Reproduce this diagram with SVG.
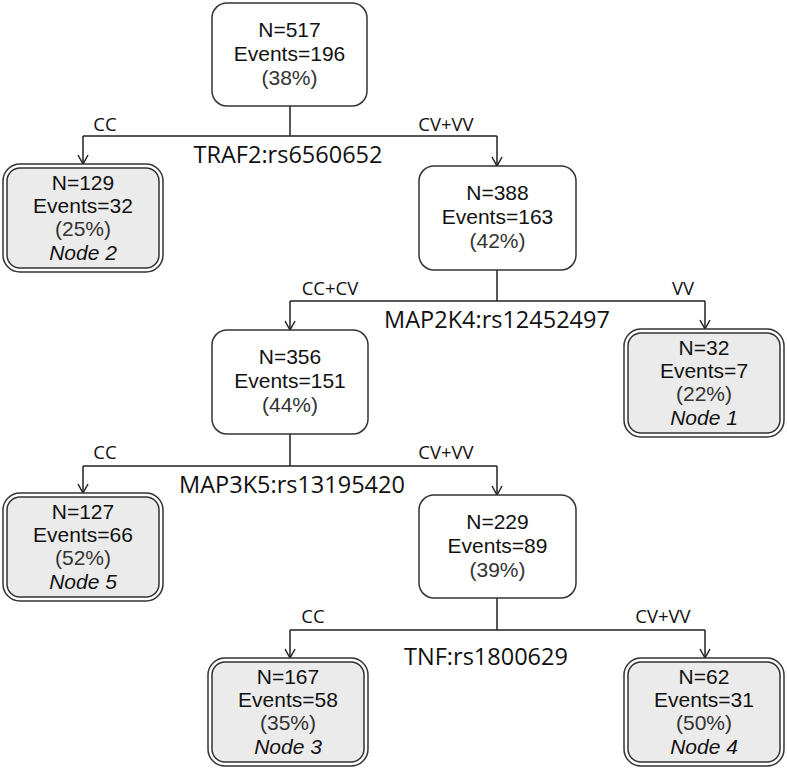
<svg xmlns="http://www.w3.org/2000/svg" width="787" height="768" viewBox="0 0 787 768">
<defs>
<style>
.box{fill:#fff;stroke:#333;stroke-width:1.5}
.outer{fill:#fff;stroke:#333;stroke-width:1.5}
.inner{fill:#ebebeb;stroke:#333;stroke-width:1.5}
.nt{font-family:"Liberation Sans",Arial,sans-serif;font-size:21px;fill:#111;text-anchor:middle}
.pc{fill:#333}
.it{font-style:italic}
.lbl{font-family:"Open Sans","DejaVu Sans",sans-serif;font-size:18.5px;fill:#111;text-anchor:middle}
.split{font-family:"Open Sans","DejaVu Sans",sans-serif;font-size:23.5px;fill:#111;text-anchor:middle}
.edge{fill:none;stroke:#222;stroke-width:1.5}
</style>
<marker id="arr" markerUnits="userSpaceOnUse" markerWidth="20" markerHeight="20" refX="0" refY="0" orient="auto" overflow="visible">
<path d="M-9,-5 L0,0 L-9,5" fill="none" stroke="#222" stroke-width="1.5"/>
</marker>
</defs>
<rect width="787" height="768" fill="#fff"/>

<g id="connectors">
<path class="edge" d="M290,106 V136 M83,136 H497"/>
<path class="edge" d="M83,136 V164" marker-end="url(#arr)"/>
<path class="edge" d="M497,136 V166" marker-end="url(#arr)"/>
<path class="edge" d="M497,270 V301 M290,301 H705"/>
<path class="edge" d="M290,301 V330" marker-end="url(#arr)"/>
<path class="edge" d="M705,301 V329" marker-end="url(#arr)"/>
<path class="edge" d="M290,434 V466 M83,466 H497"/>
<path class="edge" d="M83,466 V493" marker-end="url(#arr)"/>
<path class="edge" d="M497,466 V495" marker-end="url(#arr)"/>
<path class="edge" d="M497,598 V630 M290,630 H705"/>
<path class="edge" d="M290,630 V658" marker-end="url(#arr)"/>
<path class="edge" d="M705,630 V658" marker-end="url(#arr)"/>
<text class="lbl" x="105" y="131">CC</text>
<text class="lbl" x="446" y="131">CV+VV</text>
<text class="split" x="288" y="163">TRAF2:rs6560652</text>
<text class="lbl" x="330" y="295">CC+CV</text>
<text class="lbl" x="683" y="295">VV</text>
<text class="split" x="497" y="328">MAP2K4:rs12452497</text>
<text class="lbl" x="105" y="459">CC</text>
<text class="lbl" x="446" y="459">CV+VV</text>
<text class="split" x="292" y="493">MAP3K5:rs13195420</text>
<text class="lbl" x="313" y="623">CC</text>
<text class="lbl" x="663" y="623">CV+VV</text>
<text class="split" x="486" y="665">TNF:rs1800629</text>
</g>

<g id="n0">
<rect class="box" x="212" y="3" width="155" height="103" rx="15"/>
<text class="nt" x="289.5" y="37">N=517</text>
<text class="nt" x="289.5" y="61">Events=196</text>
<text class="nt pc" x="289.5" y="85">(38%)</text>
</g>

<g id="node2">
<rect class="outer" x="3" y="164" width="160" height="108" rx="17"/>
<rect class="inner" x="7" y="168" width="152" height="100" rx="13"/>
<text class="nt" x="83" y="190">N=129</text>
<text class="nt" x="83" y="213">Events=32</text>
<text class="nt pc" x="83" y="236">(25%)</text>
<text class="nt it" x="83" y="260">Node 2</text>
</g>

<g id="n388">
<rect class="box" x="419" y="166" width="157" height="104" rx="15"/>
<text class="nt" x="497.5" y="200">N=388</text>
<text class="nt" x="497.5" y="224">Events=163</text>
<text class="nt pc" x="497.5" y="248">(42%)</text>
</g>

<g id="node1">
<rect class="outer" x="624" y="329" width="160" height="108" rx="17"/>
<rect class="inner" x="628" y="333" width="152" height="100" rx="13"/>
<text class="nt" x="704" y="355">N=32</text>
<text class="nt" x="704" y="378">Events=7</text>
<text class="nt pc" x="704" y="401">(22%)</text>
<text class="nt it" x="704" y="425">Node 1</text>
</g>

<g id="n356">
<rect class="box" x="212" y="330" width="156" height="104" rx="15"/>
<text class="nt" x="290" y="364">N=356</text>
<text class="nt" x="290" y="388">Events=151</text>
<text class="nt pc" x="290" y="412">(44%)</text>
</g>

<g id="node5">
<rect class="outer" x="3" y="493" width="160" height="108" rx="17"/>
<rect class="inner" x="7" y="497" width="152" height="100" rx="13"/>
<text class="nt" x="83" y="519">N=127</text>
<text class="nt" x="83" y="542">Events=66</text>
<text class="nt pc" x="83" y="565">(52%)</text>
<text class="nt it" x="83" y="589">Node 5</text>
</g>

<g id="n229">
<rect class="box" x="419" y="495" width="157" height="103" rx="15"/>
<text class="nt" x="497.5" y="529">N=229</text>
<text class="nt" x="497.5" y="553">Events=89</text>
<text class="nt pc" x="497.5" y="577">(39%)</text>
</g>

<g id="node3">
<rect class="outer" x="208" y="658" width="160" height="108" rx="17"/>
<rect class="inner" x="212" y="662" width="152" height="100" rx="13"/>
<text class="nt" x="288" y="684">N=167</text>
<text class="nt" x="288" y="707">Events=58</text>
<text class="nt pc" x="288" y="730">(35%)</text>
<text class="nt it" x="288" y="754">Node 3</text>
</g>

<g id="node4">
<rect class="outer" x="624" y="658" width="160" height="108" rx="17"/>
<rect class="inner" x="628" y="662" width="152" height="100" rx="13"/>
<text class="nt" x="704" y="684">N=62</text>
<text class="nt" x="704" y="707">Events=31</text>
<text class="nt pc" x="704" y="730">(50%)</text>
<text class="nt it" x="704" y="754">Node 4</text>
</g>
</svg>
